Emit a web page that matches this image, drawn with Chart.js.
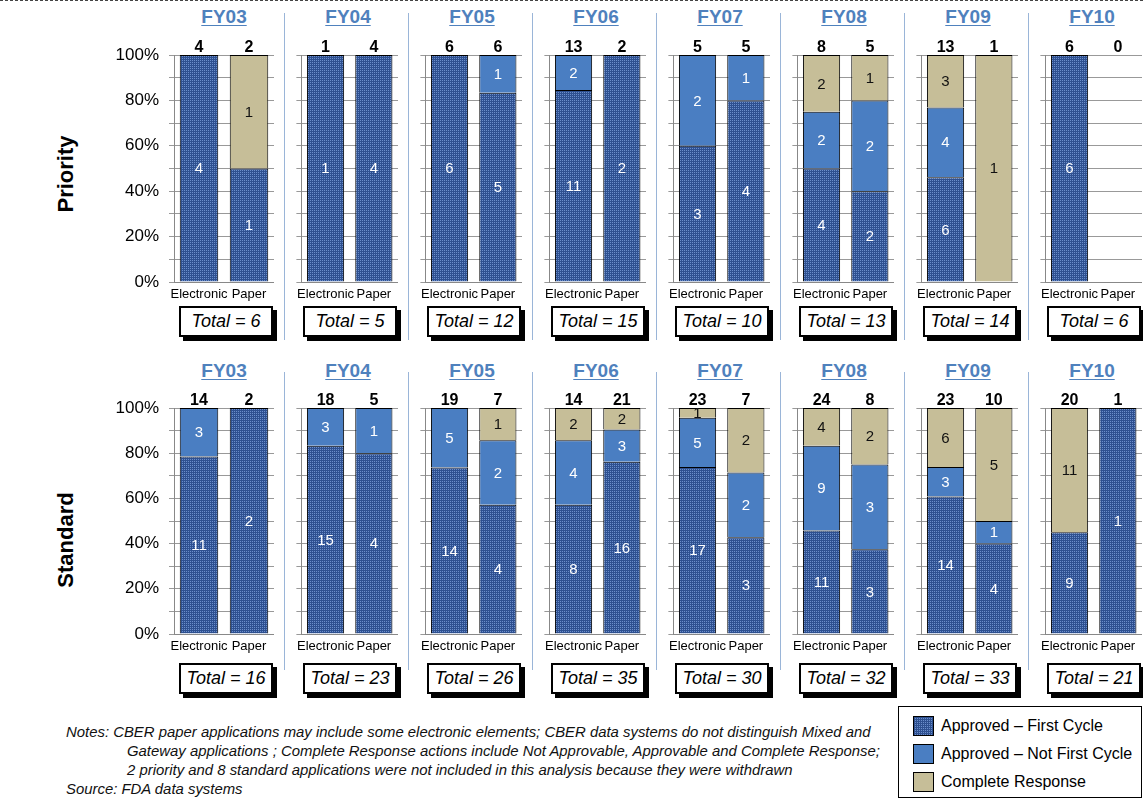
<!DOCTYPE html>
<html>
<head>
<meta charset="utf-8">
<script src="https://cdn.jsdelivr.net/npm/chart.js@4/dist/chart.umd.min.js"></script>
<style>
  body { margin: 0; background: #fff; font-family: "Liberation Sans", Arial, sans-serif; }
  #page { position: relative; width: 1143px; height: 801px; overflow: hidden; }
  canvas.panel { position: absolute; }
  .fy { position: absolute; width: 100px; text-align: center; font-weight: bold; font-size: 19px;
        color: #4f81bd; text-decoration: underline; text-underline-offset: 2px; }
  .total { position: absolute; width: 90px; height: 27px; border: 2px solid #000; background: #fff;
           box-shadow: 4px 4px 0 #000; font-style: italic; font-size: 18px; line-height: 27px; text-align: center; }
  .sep { position: absolute; width: 1px; background: #9ab5d8; }
  .rowlab { position: absolute; width: 140px; text-align: center; font-weight: bold; font-size: 22px;
            transform: rotate(-90deg); }
  #dash { position: absolute; left: 0; top: 352px; width: 1143px; border-top: 1px dashed #444; }
  #notes { position: absolute; left: 66px; top: 723px; font-style: italic; font-size: 14.9px; line-height: 19px; color: #111; white-space: nowrap; }
  #notes .ind { padding-left: 61px; }
  #legend { position: absolute; left: 898px; top: 706px; width: 242px; height: 90px; border: 1.5px solid #000; }
  #legend .item { position: absolute; left: 14px; height: 22px; font-size: 16px; line-height: 22px; }
  #legend canvas { position: absolute; left: 0; top: 1px; }
  #legend span { position: absolute; left: 28px; white-space: nowrap; }
</style>
</head>
<body>
<div id="page"></div>
<script>
const years = ['FY03', 'FY04', 'FY05', 'FY06', 'FY07', 'FY08', 'FY09', 'FY10'];
const media = ['Electronic', 'Paper'];
const outcomes = ['Approved – First Cycle', 'Approved – Not First Cycle', 'Complete Response'];
const yTicks = [0, 20, 40, 60, 80, 100];

// application counts per year, [electronic, paper]
const priFirst    = [[4, 1], [1, 4], [6, 5], [11, 2], [3, 4], [4, 2], [6, 0], [6, 0]];
const priNotFirst = [[0, 0], [0, 0], [0, 1], [2, 0], [2, 1], [2, 2], [4, 0], [0, 0]];
const priComplete = [[0, 1], [0, 0], [0, 0], [0, 0], [0, 0], [2, 1], [3, 1], [0, 0]];

const stdFirst    = [[11, 2], [15, 4], [14, 4], [8, 16], [17, 3], [11, 3], [14, 4], [9, 1]];
const stdNotFirst = [[3, 0], [3, 1], [5, 2], [4, 3], [5, 2], [9, 3], [3, 1], [0, 0]];
const stdComplete = [[0, 0], [0, 0], [0, 1], [2, 2], [1, 2], [4, 2], [6, 5], [11, 0]];

const rows = [
  { name: 'Priority', series: [priFirst, priNotFirst, priComplete], plotTop: 55, plotH: 227, fyTop: 6, totTop: 306, sepTop: 13, sepBot: 340, labY: 174 },
  { name: 'Standard', series: [stdFirst, stdNotFirst, stdComplete], plotTop: 408, plotH: 226, fyTop: 360, totTop: 663, sepTop: 372, sepBot: 670, labY: 540 }
];

const FONT = '"Liberation Sans", Arial, sans-serif';
const page = document.getElementById('page');

// dotted fill for first-cycle approvals
function dotPattern(c) {
  const t = document.createElement('canvas');
  t.width = 2; t.height = 2;
  const g = t.getContext('2d');
  g.fillStyle = '#2e5090';
  g.fillRect(0, 0, 2, 2);
  g.fillStyle = '#6b8ecb';
  g.fillRect(0, 0, 1, 1);
  return c.createPattern(t, 'repeat');
}
const fills = [dotPattern(document.createElement('canvas').getContext('2d')), '#4a7ec2', '#c6be98'];

// numbers inside segments and bar totals on top
const barText = {
  id: 'barText',
  afterDatasetsDraw(chart) {
    const { ctx, chartArea } = chart;
    const sets = chart.data.datasets;
    ctx.save();
    ctx.textAlign = 'center';
    ctx.textBaseline = 'middle';
    ctx.font = '15px ' + FONT;
    sets.forEach((ds, d) => {
      chart.getDatasetMeta(d).data.forEach((bar, i) => {
        const n = ds.counts[i];
        if (!n) return;
        ctx.fillStyle = d == 2 ? '#111' : '#fff';
        ctx.fillText(n, bar.x, (bar.y + bar.base) / 2 + 1);
      });
    });
    ctx.font = 'bold 16px ' + FONT;
    ctx.fillStyle = '#000';
    ctx.textBaseline = 'alphabetic';
    chart.getDatasetMeta(0).data.forEach((bar, i) => {
      const tot = sets.reduce((s, ds) => s + ds.counts[i], 0);
      ctx.fillText(tot, bar.x, chartArea.top - 3);
    });
    ctx.restore();
  }
};

function addDiv(cls, css, html) {
  const el = document.createElement('div');
  el.className = cls;
  Object.assign(el.style, css);
  el.innerHTML = html;
  page.appendChild(el);
  return el;
}

rows.forEach(row => {
  addDiv('rowlab', { left: (66 - 70) + 'px', top: (row.labY - 13) + 'px' }, row.name);

  years.forEach((fy, i) => {
    const plotLeft = 174 + 124 * i;
    const first = i == 0;
    const yW = first ? 74 : 8;
    const padTop = 25;

    const cv = document.createElement('canvas');
    cv.className = 'panel';
    cv.width = yW + 100;
    cv.height = padTop + row.plotH + 22;
    cv.style.left = (plotLeft - yW) + 'px';
    cv.style.top = (row.plotTop - padTop) + 'px';
    page.appendChild(cv);

    const counts = row.series.map(s => s[i]);
    const totals = media.map((m, k) => counts.reduce((a, c) => a + c[k], 0));

    new Chart(cv, {
      type: 'bar',
      data: {
        labels: media,
        datasets: outcomes.map((o, d) => ({
          label: o,
          counts: counts[d],
          data: counts[d].map((n, k) => totals[k] ? n / totals[k] * 100 : 0),
          backgroundColor: fills[d],
          borderColor: '#000',
          borderWidth: c => c.raw > 0 ? 1 : 0,
          borderSkipped: 'start',
          barPercentage: 0.77,
          categoryPercentage: 1
        }))
      },
      options: {
        responsive: false,
        animation: false,
        layout: { padding: { top: padTop, left: 0, right: 0, bottom: 0 } },
        plugins: { legend: { display: false }, tooltip: { enabled: false } },
        scales: {
          x: {
            stacked: true,
            grid: { display: false, drawTicks: false },
            border: { color: '#888' },
            ticks: { color: '#000', font: { size: 13, family: FONT }, padding: 5, maxRotation: 0, autoSkip: false },
            afterFit: s => { s.height = 22; }
          },
          y: {
            stacked: true,
            min: 0,
            max: 100,
            grid: { color: '#999', tickLength: 5 },
            border: { color: '#888' },
            ticks: {
              stepSize: 10,
              autoSkip: false,
              color: '#000',
              padding: 10,
              font: { size: 17, family: FONT },
              callback: v => first && yTicks.includes(v) ? v + '%' : ''
            },
            afterFit: s => { s.width = yW; }
          }
        }
      },
      plugins: [barText]
    });

    addDiv('fy', { left: plotLeft + 'px', top: row.fyTop + 'px' }, fy);
    addDiv('total', { left: (plotLeft + 5) + 'px', top: row.totTop + 'px' }, 'Total = ' + (totals[0] + totals[1]));
    if (i < years.length - 1) {
      addDiv('sep', { left: (284 + 124 * i) + 'px', top: row.sepTop + 'px', height: (row.sepBot - row.sepTop) + 'px' }, '');
    }
  });
});

addDiv('', { position: 'absolute', left: 0, top: 0 }, '').id = 'dash';

addDiv('', {}, 
  '<div>Notes: CBER paper applications may include some electronic elements; CBER data systems do not distinguish Mixed and</div>' +
  '<div class="ind">Gateway applications ; Complete Response actions include Not Approvable, Approvable and Complete Response;</div>' +
  '<div class="ind">2 priority and 8 standard applications were not included in this analysis because they were withdrawn</div>' +
  '<div>Source: FDA data systems</div>').id = 'notes';

const legend = addDiv('', {}, '');
legend.id = 'legend';
outcomes.forEach((o, d) => {
  const item = document.createElement('div');
  item.className = 'item';
  item.style.top = (8 + d * 28) + 'px';
  const sw = document.createElement('canvas');
  sw.width = 21; sw.height = 20;
  const g = sw.getContext('2d');
  g.fillStyle = d == 0 ? dotPattern(g) : fills[d];
  g.fillRect(0, 0, 21, 20);
  g.strokeStyle = '#000';
  g.strokeRect(0.5, 0.5, 20, 19);
  item.appendChild(sw);
  const t = document.createElement('span');
  t.textContent = o;
  item.appendChild(t);
  legend.appendChild(item);
});
</script>
</body>
</html>
